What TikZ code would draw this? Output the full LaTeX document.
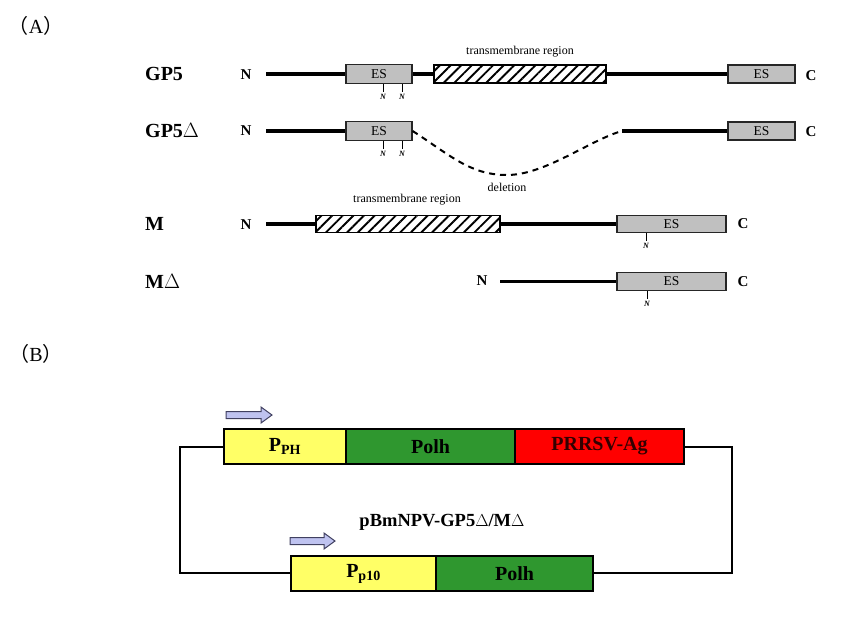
\documentclass[tikz,border=0pt]{standalone}
\usepackage{fontspec}
\setmainfont{Liberation Serif}
\newfontfamily\cjkfont{Noto Sans CJK SC}
\usetikzlibrary{patterns.meta}
\definecolor{boxgray}{HTML}{C0C0C0}
\definecolor{pyellow}{HTML}{FFFF66}
\definecolor{pgreen}{HTML}{2F972F}
\definecolor{pred}{HTML}{FF0000}
\definecolor{arrfill}{HTML}{BFC3F0}
\definecolor{arrline}{HTML}{404060}
\begin{document}
\begin{tikzpicture}[x=1pt,y=-1pt,
  backbone/.style={line width=3.8pt},
  esbox/.style={draw=black!85, line width=1.2pt, fill=boxgray, inner sep=0pt,
     font=\fontsize{13.5}{13.5}\selectfont},
  tmbox/.style={draw, line width=1.4pt, inner sep=0pt,
     pattern={Lines[angle=45,distance=7.5pt,line width=1.9pt]}},
  rowlab/.style={anchor=west, inner sep=0pt, font=\fontsize{20}{20}\selectfont\bfseries},
  endlab/.style={inner sep=0pt, font=\fontsize{15}{15}\selectfont\bfseries},
  small/.style={inner sep=0pt, font=\fontsize{12}{12}\selectfont},
  tick/.style={line width=0.8pt},
  glyc/.style={inner sep=0pt, font=\fontsize{8}{8}\selectfont\bfseries\itshape},
  genebox/.style={draw, line width=1.8pt, inner sep=0pt, minimum height=35pt,
     font=\fontsize{20}{20}\selectfont\bfseries},
  plasline/.style={line width=1.8pt},
  promarrow/.style={draw=arrline, fill=arrfill, line width=1pt, line join=miter},
]
\useasboundingbox (0,0) rectangle (843,622);

% ---------- (A) ----------
\node[inner sep=0pt, font=\fontsize{20}{20}\selectfont] (labA) at (36,26)
  {{\cjkfont （}A{\cjkfont ）}};

% GP5
\node[rowlab] (gp5) at (145,74) {GP5};
\node[endlab] (n1) at (246,75) {N};
\coordinate (s1) at (266,74);
\node[esbox, minimum width=66pt, minimum height=19pt] (es1a) at (379,74) {ES};
\node[tmbox, minimum width=172pt, minimum height=18pt] (tm1) at (520,74) {};
\node[esbox, minimum width=67pt, minimum height=18pt] (es1b) at (761.5,74) {ES};
\node[endlab] (c1) at (811,76) {C};
\node[small] (tml1) at (520,52) {transmembrane region};
\draw[backbone] (s1) -- (es1a.west);
\draw[backbone] (es1a.east) -- (tm1.west);
\draw[backbone] (tm1.east) -- (es1b.west);
\draw[tick] (es1a.south) ++(4,0) -- ++(0,8) node[glyc, below=2pt] (g1a) {N};
\draw[tick] (es1a.south) ++(23,0) -- ++(0,8) node[glyc, below=2pt] (g1b) {N};

% GP5 delta
\node[rowlab] (gp5d) at (145,131) {GP5$\Delta$};
\node[endlab] (n2) at (246,131) {N};
\coordinate (s2) at (266,131);
\node[esbox, minimum width=66pt, minimum height=19pt] (es2a) at (379,131) {ES};
\coordinate (r2) at (622,131);
\node[esbox, minimum width=67pt, minimum height=18pt] (es2b) at (761.5,131) {ES};
\node[endlab] (c2) at (811,132) {C};
\draw[backbone] (s2) -- (es2a.west);
\draw[backbone] (r2) -- (es2b.west);
\draw[line width=2pt, dash pattern=on 6pt off 5pt]
  (es2a.east) .. controls (450,155) and (470,175) .. (507,175)
  .. controls (545,175) and (590,140) .. (r2);
\node[small] (del) at (507,187) {deletion};
\draw[tick] (es2a.south) ++(4,0) -- ++(0,8) node[glyc, below=2pt] (g2a) {N};
\draw[tick] (es2a.south) ++(23,0) -- ++(0,8) node[glyc, below=2pt] (g2b) {N};

% M
\node[rowlab] (m) at (145,224) {M};
\node[endlab] (n3) at (246,225) {N};
\coordinate (s3) at (266,224);
\node[tmbox, minimum width=184pt, minimum height=17pt] (tm3) at (408,224) {};
\node[esbox, minimum width=109pt, minimum height=17.5pt] (es3) at (671.5,224) {ES};
\node[endlab] (c3) at (743,224) {C};
\node[small] (tml3) at (407,200) {transmembrane region};
\draw[backbone] (s3) -- (tm3.west);
\draw[backbone] (tm3.east) -- (es3.west);
\draw[tick] (es3.south) ++(-25.5,0) -- ++(0,8) node[glyc, below=2pt] (g3) {N};

% M delta
\node[rowlab] (md) at (145,281) {M$\Delta$};
\node[endlab] (n4) at (482,281) {N};
\coordinate (s4) at (500,281.5);
\node[esbox, minimum width=109pt, minimum height=18pt] (es4) at (671.5,281.5) {ES};
\node[endlab] (c4) at (743,282) {C};
\draw[backbone] (s4) -- (es4.west);
\draw[tick] (es4.south) ++(-24.5,0) -- ++(0,8) node[glyc, below=2pt] (g4) {N};

% ---------- (B) ----------
\node[inner sep=0pt, font=\fontsize{20}{20}\selectfont] (labB) at (36,354)
  {{\cjkfont （}B{\cjkfont ）}};

\node[genebox, fill=pyellow, minimum width=122pt] (pph) at (285,446.5)
  {P\textsubscript{PH}};
\node[genebox, fill=pgreen, minimum width=169pt] (polh1) at (430.5,446.5) {Polh};
\node[genebox, fill=pred, minimum width=169pt, text=black!80!red] (ag) at (599.5,446.5) {PRRSV-Ag};

\node[genebox, fill=pyellow, minimum width=145pt] (pp10) at (363.5,573.5)
  {P\textsubscript{p10}};
\node[genebox, fill=pgreen, minimum width=157pt] (polh2) at (514.5,573.5) {Polh};

\coordinate (tl) at (180,447);
\coordinate (bl) at (180,573);
\coordinate (tr) at (732,447);
\coordinate (br) at (732,573);
\draw[plasline] (pph.west |- tl) -- (tl) -- (bl) -- (pp10.west |- bl);
\draw[plasline] (ag.east |- tr) -- (tr) -- (br) -- (polh2.east |- br);

% promoter arrows
\coordinate (ar1) at (226,415);
\draw[promarrow] (ar1) ++(0,-3.5) -- ++(35,0) -- ++(0,-4.5) -- ++(11,8)
  -- ++(-11,8) -- ++(0,-4.5) -- ++(-35,0) -- cycle;
\coordinate (ar2) at (290,541);
\draw[promarrow] (ar2) ++(0,-3.5) -- ++(34,0) -- ++(0,-4.5) -- ++(11,8)
  -- ++(-11,8) -- ++(0,-4.5) -- ++(-34,0) -- cycle;

\node[inner sep=0pt, font=\fontsize{18.5}{18.5}\selectfont\bfseries] (title) at (442,522)
  {pBmNPV-GP5$\Delta$/M$\Delta$};
\end{tikzpicture}
\end{document}
